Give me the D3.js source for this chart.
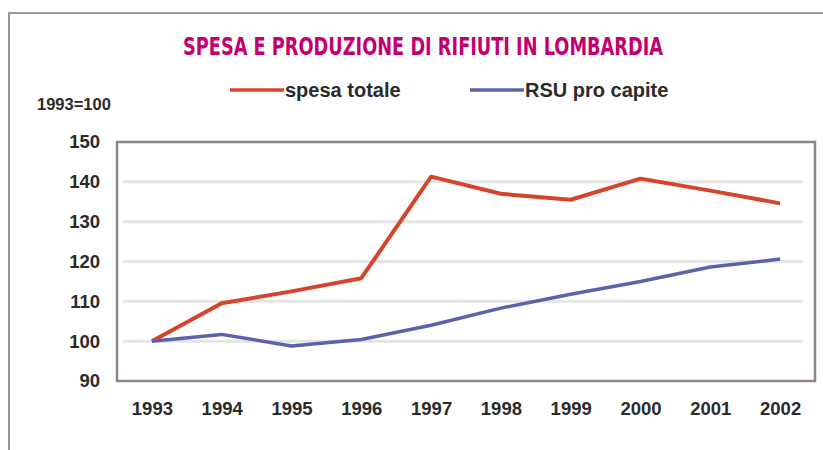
<!DOCTYPE html>
<html>
<head>
<meta charset="utf-8">
<script src="https://cdn.jsdelivr.net/npm/d3@7"></script>
<style>
  body { margin: 0; background: #fff; }
  svg { display: block; }
</style>
</head>
<body>
<svg id="chart" width="823" height="450"></svg>
<script>
const years = [ "1993", "1994", "1995", "1996", "1997", "1998", "1999", "2000", "2001", "2002" ];
const spesaTotale = [ 100, 109.5, 112.5, 115.8, 141.3, 137, 135.5, 140.8, 137.8, 134.6 ];
const rsuProCapite = [ 100, 101.7, 98.8, 100.4, 104, 108.3, 111.8, 115, 118.6, 120.6 ];
const yTicks = [ 90, 100, 110, 120, 130, 140, 150 ];
const gridValues = [ 100, 110, 120, 130, 140 ];

const WIDTH = 823;
const HEIGHT = 450;
const PLOT = { left: 117, right: 815, top: 142, bottom: 381 };
const TEXT = "#2b2b2b";

const svg = d3.select( "#chart" );

// outer frame (only top and left are visible in the picture)
svg.append( "path" )
  .attr( "d", `M9,${HEIGHT} V13 H${WIDTH}` )
  .attr( "fill", "none" )
  .attr( "stroke", "#7a7a7a" )
  .attr( "stroke-width", 1.6 );

svg.append( "text" )
  .attr( "x", 423 )
  .attr( "y", 55 )
  .attr( "text-anchor", "middle" )
  .attr( "font-family", "'DejaVu Sans Condensed', 'DejaVu Sans', sans-serif" )
  .attr( "font-weight", "bold" )
  .attr( "font-size", 25 )
  .attr( "textLength", 480 )
  .attr( "lengthAdjust", "spacingAndGlyphs" )
  .attr( "fill", "#c2006f" )
  .text( "SPESA E PRODUZIONE DI RIFIUTI IN LOMBARDIA" );

const x = d3.scalePoint()
  .domain( years )
  .range( [ PLOT.left, PLOT.right ] )
  .padding( 0.5 );

const y = d3.scaleLinear()
  .domain( [ 90, 150 ] )
  .range( [ PLOT.bottom, PLOT.top ] );

// gridlines
svg.append( "g" )
  .selectAll( "line" )
  .data( gridValues )
  .enter()
  .append( "line" )
  .attr( "x1", PLOT.left + 6 )
  .attr( "x2", PLOT.right - 12 )
  .attr( "y1", d => y( d ) )
  .attr( "y2", d => y( d ) )
  .attr( "stroke", "#e4e4e4" )
  .attr( "stroke-width", 3 );

// plot box
svg.append( "rect" )
  .attr( "x", PLOT.left )
  .attr( "y", PLOT.top )
  .attr( "width", PLOT.right - PLOT.left )
  .attr( "height", PLOT.bottom - PLOT.top )
  .attr( "fill", "none" )
  .attr( "stroke", "#8e8480" )
  .attr( "stroke-width", 2.5 );

const yAxis = d3.axisLeft( y ).tickValues( yTicks ).tickSize( 0 ).tickPadding( 17 );
const xAxis = d3.axisBottom( x ).tickSize( 0 ).tickPadding( 21 );

const gy = svg.append( "g" )
  .attr( "transform", `translate(${PLOT.left},0)` )
  .call( yAxis );
const gx = svg.append( "g" )
  .attr( "transform", `translate(0,${PLOT.bottom})` )
  .call( xAxis );

[ gy, gx ].forEach( g => {
  g.select( ".domain" ).remove();
  g.selectAll( "text" )
    .attr( "font-family", "'Liberation Sans', Arial, sans-serif" )
    .attr( "font-weight", "bold" )
    .attr( "font-size", 18.5 )
    .attr( "fill", TEXT );
} );

svg.append( "text" )
  .attr( "x", 37 )
  .attr( "y", 110 )
  .attr( "font-family", "'Liberation Sans', Arial, sans-serif" )
  .attr( "font-weight", "bold" )
  .attr( "font-size", 16.5 )
  .attr( "fill", TEXT )
  .text( "1993=100" );

const series = [
  { name: "spesa totale", values: spesaTotale, color: "#d5452b", width: 4, lx: 230 },
  { name: "RSU pro capite", values: rsuProCapite, color: "#5c62aa", width: 3.5, lx: 470 },
];

const line = d3.line()
  .x( ( d, i ) => x( years[i] ) )
  .y( d => y( d ) );

series.forEach( s => {
  svg.append( "path" )
    .datum( s.values )
    .attr( "d", line )
    .attr( "fill", "none" )
    .attr( "stroke", s.color )
    .attr( "stroke-width", s.width )
    .attr( "stroke-linejoin", "round" );

  svg.append( "line" )
    .attr( "x1", s.lx )
    .attr( "x2", s.lx + 54 )
    .attr( "y1", 90 )
    .attr( "y2", 90 )
    .attr( "stroke", s.color )
    .attr( "stroke-width", 3.5 );

  svg.append( "text" )
    .attr( "x", s.lx + 55 )
    .attr( "y", 97 )
    .attr( "font-family", "'Liberation Sans', Arial, sans-serif" )
    .attr( "font-weight", "bold" )
    .attr( "font-size", 20 )
    .attr( "fill", TEXT )
    .text( s.name );
} );
</script>
</body>
</html>
